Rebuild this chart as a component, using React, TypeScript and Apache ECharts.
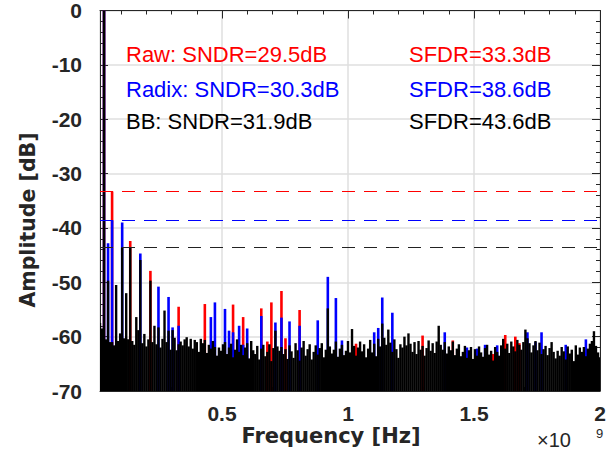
import React, { useEffect, useRef } from "react";
import * as echarts from "echarts";

// Frequency axis in units of 1e9 Hz; FFT bins start at FREQ_START with spacing FREQ_STEP
const FREQ_START = 0.016;
const FREQ_STEP = 0.008;
const X_MAX = 2;
const Y_MIN = -70;
const Y_MAX = 0;

// BB (black) spectrum, one value per bin [dB]
const bbDb: number[] = [
  -57.5, -58.5, 0, -60.5, -49.7, -61, -61, -61.6, -50.5, -60.8,
  -59.4, -43.6, -60.3, -52, -60.5, -43.6, -60.8, -61.5, -56.4, -58.8,
  -45.9, -61.2, -59.5, -61.8, -60.5, -49.7, -61, -58, -61.4, -58.3,
  -62, -60.4, -55.2, -61, -58.9, -62.4, -58.8, -60.2, -62.5, -61.4,
  -60.9, -61.6, -60.5, -60.1, -61.8, -60.4, -62.2, -60.6, -61, -62.8,
  -60.4, -61.2, -60.6, -63, -61.5, -62.2, -60.8, -61.9, -63.5, -62,
  -62.6, -61.4, -61, -63.2, -62, -61.3, -63.8, -62.4, -60.5, -62.8,
  -61.5, -63.4, -62, -61.2, -64, -60.8, -62.5, -63.2, -61.7, -64.2,
  -62.2, -61.5, -63.6, -62.8, -61.4, -64.5, -62.1, -58.9, -61.8, -62.6,
  -61.9, -63.2, -62.3, -64.1, -61.6, -62.7, -63.9, -61.2, -62.5, -64.4,
  -62, -60.8, -63.5, -62.3, -61.4, -64.2, -62.8, -61.6, -63.3, -62.1,
  -61.2, -63.8, -62.4, -54.8, -61.8, -63.1, -62.4, -60.9, -63.7, -62.2,
  -61.5, -63.4, -62.6, -60.8, -62.9, -58.6, -61.7, -63.5, -62, -60.9,
  -62.7, -61.4, -63.8, -62.2, -60.6, -62.9, -61.3, -63.6, -60.4, -61.8,
  -57.6, -60.2, -61.5, -58.7, -61.1, -62.8, -60.5, -62.3, -63.9, -61.4,
  -62, -60, -61.6, -59.4, -61.3, -62.8, -61, -63.2, -60.8, -62.4,
  -61.7, -63.5, -62.1, -60.7, -62.6, -61.2, -63, -60.9, -58, -61.5,
  -62.4, -61, -63.1, -61.8, -62.5, -60.9, -63.4, -62.2, -61.4, -63.6,
  -62.8, -61.7, -63.9, -62.5, -61.9, -64.1, -62.3, -63.5, -61.8, -62.9,
  -63.7, -62.1, -61.5, -63.3, -62.6, -64.4, -61.9, -62.8, -63.5, -61.6,
  -60.4, -62.2, -61.3, -63, -60.9, -61.8, -62.7, -60.6, -61.5, -62.4,
  -61, -58.7, -60.3, -61.2, -62.9, -61.6, -60.8, -62.5, -61.1, -63.2,
  -62.3, -61.7, -63.4, -62.1, -61, -62.8, -64, -62.6, -63.5, -61.9,
  -62.7, -64.2, -61.8, -63.1, -62.4, -64.5, -61.6, -63.3, -62, -62.8,
  -61.9, -63.6, -62.2, -61.3, -60.8, -59, -61.7, -62.9, -63.8,
];

// Raw (red) spectrum: bins where it shows above the others [freq (1e9 Hz), dB]
const rawSpikes: [number, number][] = [
  [0.032, 0], [0.064, -33.3], [0.136, -42.4], [0.216, -47.9], [0.328, -54.5],
  [0.432, -54.0], [0.544, -54.1], [0.584, -56.4], [0.656, -54.8], [0.68, -60.9],
  [0.696, -53.7], [0.736, -51.6], [0.752, -60.3], [0.808, -55.1], [1.032, -61.3],
  [1.296, -59.8], [1.416, -60.7], [1.576, -63.2], [1.624, -59.7], [1.664, -60.0],
  [1.68, -61.2],
];

// Radix (blue) spectrum: bins where it shows above black [freq (1e9 Hz), dB]
const radixSpikes: [number, number][] = [
  [0.032, 0], [0.048, -42.8], [0.064, -38.6], [0.104, -39.0], [0.176, -44.7],
  [0.248, -50.8], [0.288, -52.7], [0.304, -58.3], [0.328, -58.0], [0.456, -56.4],
  [0.472, -53.7], [0.512, -54.9], [0.528, -58.9], [0.544, -59.2], [0.568, -58.0],
  [0.584, -61.5], [0.6, -58.5], [0.656, -56.2], [0.712, -57.4], [0.736, -56.5],
  [0.768, -57.2], [0.808, -58.0], [0.88, -57.0], [0.92, -49.0], [0.952, -52.9],
  [0.976, -60.7], [1.104, -59.2], [1.12, -58.4], [1.136, -52.8], [1.176, -55.6],
  [1.384, -59.2], [1.472, -62.0], [1.512, -62.2], [1.544, -61.5], [1.592, -61.6],
  [1.712, -59.2], [1.744, -61.0], [1.768, -59.2], [1.864, -61.5], [1.944, -60.5],
];

// SFDR reference levels [dB]
const sfdrRaw = -33.3;
const sfdrRadix = -38.6;
const sfdrBB = -43.6;

const rawTexts = ["Raw: SNDR=29.5dB", "SFDR=33.3dB"];
const radixTexts = ["Radix: SNDR=30.3dB", "SFDR=38.6dB"];
const bbTexts = ["BB: SNDR=31.9dB", "SFDR=43.6dB"];

const RED = "#ff0000";
const BLUE = "#0000ff";
const BLACK = "#000000";
const DASH_BLACK = "#222222";
const AX = "#262626";
const GRID = "#dfdfdf";
const FONT = '"Liberation Sans", Arial, Helvetica, sans-serif';
const BOLD_FONT = '"DejaVu Sans", "Liberation Sans", sans-serif';
const DASH_ON = 13;
const DASH_OFF = 9;

const stemRender = (color: string, width: number) => (params: any, api: any) => {
  const x = api.value(0);
  const y = api.value(1);
  const top = api.coord([x, y]);
  const base = api.coord([x, Y_MIN]);
  return {
    type: "rect",
    shape: { x: top[0] - width / 2, y: top[1], width, height: base[1] - top[1] },
    style: { fill: color },
  };
};

// dashed SFDR level drawn as filled dash segments along the level
const dashRender = (color: string) => (params: any, api: any) => {
  const v = api.value(0);
  const a = api.coord([FREQ_START, v]);
  const b = api.coord([X_MAX, v]);
  const y = Math.floor(a[1]);
  const children: any[] = [];
  for (let x = a[0]; x < b[0]; x += DASH_ON + DASH_OFF) {
    children.push({
      type: "rect",
      shape: { x, y, width: Math.min(DASH_ON, b[0] - x), height: 1 },
      style: { fill: color },
    });
  }
  return { type: "group", children };
};

export default function App() {
  const ref = useRef<HTMLDivElement>(null);
  useEffect(() => {
    if (!ref.current) return;
    const chart = echarts.init(ref.current, undefined, { renderer: "svg" });
    const bbData = bbDb.map((v, i) => [FREQ_START + FREQ_STEP * i, v]);
    const axisCommon = {
      min: FREQ_START,
      max: X_MAX,
      splitNumber: 4,
    };
    const dashSeries = (name: string, val: number, color: string) => ({
      type: "custom",
      name,
      data: [[val]],
      encode: { y: 0 },
      silent: true,
      z: 5,
      renderItem: dashRender(color),
    });
    const txt = (text: string, x: number, y: number, fill: string) => ({
      type: "text",
      x,
      y,
      z: 10,
      style: { text, fill, font: `22px ${FONT}`, verticalAlign: "middle" },
    });
    chart.setOption({
      animation: false,
      grid: { left: 100, right: 15, top: 10, bottom: 73, containLabel: false },
      xAxis: [
        {
          type: "value",
          ...axisCommon,
          position: "bottom",
          axisLine: { show: true, onZero: false, lineStyle: { color: AX, width: 1 } },
          axisTick: { show: true, inside: true, length: 8, lineStyle: { color: AX } },
          minorTick: { show: true, splitNumber: 5, length: 4, lineStyle: { color: AX } },
          axisLabel: {
            show: true,
            showMinLabel: false,
            margin: 12,
            fontSize: 21,
            fontWeight: "bold",
            color: AX,
            fontFamily: FONT,
          },
          splitLine: { show: true, lineStyle: { color: GRID, width: 1.5 } },
        },
        {
          type: "value",
          ...axisCommon,
          position: "top",
          axisLine: { show: true, onZero: false, lineStyle: { color: AX, width: 1 } },
          axisTick: { show: true, inside: true, length: 8, lineStyle: { color: AX } },
          minorTick: { show: true, splitNumber: 5, length: 4, lineStyle: { color: AX } },
          axisLabel: { show: false },
          splitLine: { show: false },
        },
      ],
      yAxis: [
        {
          type: "value",
          min: Y_MIN,
          max: Y_MAX,
          interval: 10,
          position: "left",
          axisLine: { show: true, onZero: false, lineStyle: { color: AX, width: 1 } },
          axisTick: { show: true, inside: true, length: 8, lineStyle: { color: AX } },
          minorTick: { show: true, splitNumber: 5, length: 4, lineStyle: { color: AX } },
          axisLabel: {
            show: true,
            margin: 18,
            fontSize: 21,
            fontWeight: "bold",
            color: AX,
            fontFamily: FONT,
          },
          splitLine: { show: true, lineStyle: { color: GRID, width: 1.5 } },
        },
        {
          type: "value",
          min: Y_MIN,
          max: Y_MAX,
          interval: 10,
          position: "right",
          axisLine: { show: true, onZero: false, lineStyle: { color: AX, width: 1 } },
          axisTick: { show: true, inside: true, length: 8, lineStyle: { color: AX } },
          minorTick: { show: true, splitNumber: 5, length: 4, lineStyle: { color: AX } },
          axisLabel: { show: false },
          splitLine: { show: false },
        },
      ],
      series: [
        {
          type: "custom",
          name: "Raw",
          data: rawSpikes,
          clip: true,
          silent: true,
          renderItem: stemRender(RED, 2.6),
        },
        {
          type: "custom",
          name: "Radix",
          data: radixSpikes,
          clip: true,
          silent: true,
          renderItem: stemRender(BLUE, 2.6),
        },
        {
          type: "custom",
          name: "BB",
          data: bbData,
          clip: true,
          silent: true,
          renderItem: stemRender(BLACK, 2.4),
        },
        dashSeries("BB SFDR", sfdrBB, DASH_BLACK),
        dashSeries("Radix SFDR", sfdrRadix, BLUE),
        dashSeries("Raw SFDR", sfdrRaw, RED),
      ],
      graphic: [
        txt(rawTexts[0], 126, 54, RED),
        txt(rawTexts[1], 409, 54, RED),
        txt(radixTexts[0], 126, 89, BLUE),
        txt(radixTexts[1], 409, 89, BLUE),
        txt(bbTexts[0], 126, 121, BLACK),
        txt(bbTexts[1], 409, 121, BLACK),
        {
          type: "text",
          x: 331,
          y: 436,
          z: 10,
          style: { text: "Frequency [Hz]", fill: AX, font: `bold 21px ${BOLD_FONT}`, align: "center", verticalAlign: "middle" },
        },
        {
          type: "text",
          x: 28,
          y: 220,
          z: 10,
          rotation: Math.PI / 2,
          style: { text: "Amplitude [dB]", fill: AX, font: `bold 20.5px ${BOLD_FONT}`, align: "center", verticalAlign: "middle" },
        },
        { type: "text", x: 537, y: 440, z: 10, style: { text: "×10", fill: AX, font: `20px ${FONT}`, verticalAlign: "middle" } },
        { type: "text", x: 596, y: 433, z: 10, style: { text: "9", fill: AX, font: `13px ${FONT}`, verticalAlign: "middle" } },
      ],
    });
    return () => chart.dispose();
  }, []);
  return <div ref={ref} style={{ width: 615, height: 464, position: "absolute", left: 0, top: 0 }} />;
}
